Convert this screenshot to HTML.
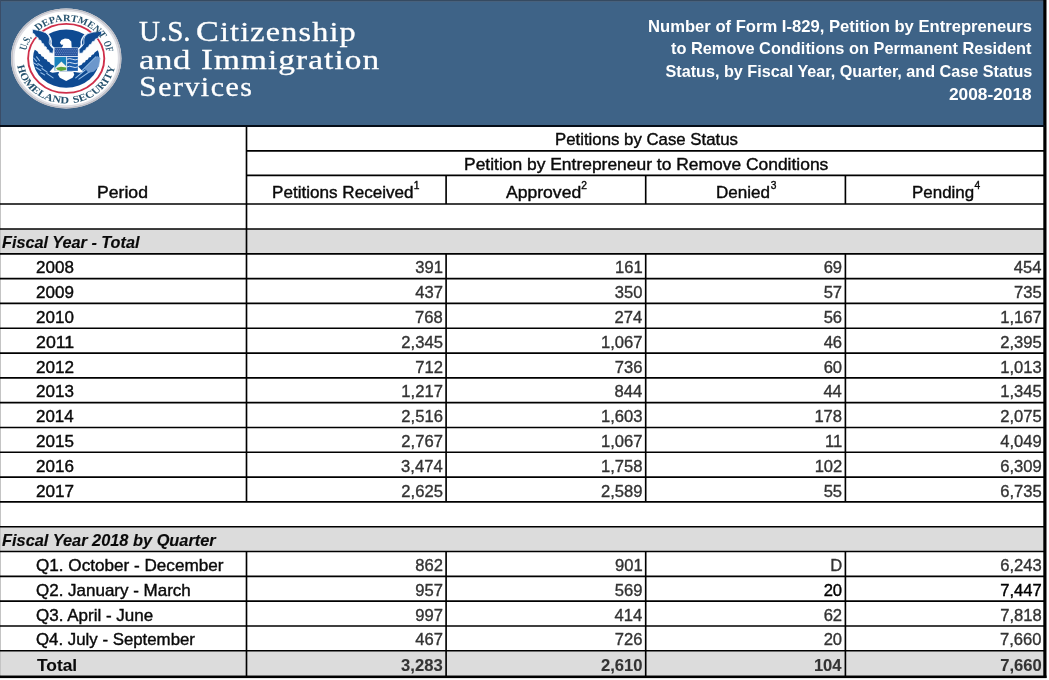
<!DOCTYPE html>
<html lang="en"><head><meta charset="utf-8"><title>Form I-829 Petitions by Case Status</title>
<style>
html,body{margin:0;padding:0;background:#fff;overflow:hidden;}
body{width:1049px;height:680px;position:relative;overflow:hidden;font-family:"Liberation Sans",sans-serif;color:#111;}
.hdr{position:absolute;left:0;top:0;width:1045px;height:125.2px;background:#3e6387;}
.hdr .topl{position:absolute;left:0;top:0;width:100%;height:1px;background:#354a61;box-shadow:0 1px 0 #48617c;}
.hdr .leftl{position:absolute;left:0;top:0;width:1px;height:100%;background:#3a4d68;}
.hdrline{position:absolute;left:0;top:124.9px;width:1045px;height:1.7px;background:#050d18;}
.grid,.seal{position:absolute;left:0;top:0;}
.g{height:0;}
span{position:absolute;white-space:nowrap;transform-origin:0 0;}
.ag{font-family:"Liberation Serif",serif;font-size:28.5px;line-height:30px;color:#fff;-webkit-text-stroke:0.35px #fff;}
.lc{font-size:26.8px;-webkit-text-stroke:0.3px #fff;}
.fl::first-letter{font-size:28.5px;}
.tt{font-size:16.2px;line-height:22px;font-weight:bold;color:#fff;}
.t{font-size:16.6px;line-height:24px;color:#0a0a0a;-webkit-text-stroke:0.4px #0a0a0a;}
.n{color:#333;-webkit-text-stroke:0.35px #333;}
.k{color:#000;-webkit-text-stroke:0.4px #000;}
.sp{font-size:10.2px;line-height:12px;}
.b{font-weight:bold;-webkit-text-stroke:0.1px #0a0a0a;}
.b.n{-webkit-text-stroke:0.1px #333;}
.bi{font-weight:bold;font-style:italic;-webkit-text-stroke:0.15px #0a0a0a;}
</style></head><body>
<div class="hdr"><div class="topl"></div><div class="leftl"></div></div>
<svg class="seal" width="135" height="120" viewBox="0 0 135 120">
<defs>
<path id="arcTop" d="M -37.2 0 A 37.2 37.2 0 0 1 37.2 0"/>
<path id="arcBot" d="M -45 0 A 45 45 0 0 0 45 0"/>
</defs>
<g transform="translate(66.2,58.4)">
 <g transform="scale(1.104,1)">
  <circle r="50" fill="#fff"/>
  <circle r="49.1" fill="none" stroke="#bfbfc6" stroke-width="1.8"/>
  <circle r="47.6" fill="none" stroke="#dedee4" stroke-width="1.6"/>
 </g>
</g>
<g transform="translate(26,22) scale(0.10582)">
 <ellipse cx="380" cy="346" rx="314" ry="276" fill="#0e4a92"/>
 <path d="M45 60 L262 240 L270 300 L268 420 L262 410 L234 399 L222 380 L203 374 L195 355 L175 349 L167 330 L147 324 L139 305 L120 299 L111 282 L92 268 L60 250 L40 150 Z" fill="#fdfdfd"/>
 <path d="M715 66 L498 246 L490 306 L492 426 L498 416 L526 405 L538 386 L557 380 L565 361 L585 355 L593 336 L613 330 L621 311 L640 305 L649 288 L668 274 L700 256 L720 156 Z" fill="#fdfdfd"/>
<g transform="scale(9.45)"><g transform="translate(40.2,36.4) scale(1.104,1)"><circle r="34.5" fill="none" stroke="#cf2f4a" stroke-width="1.7"/></g></g>
 <path d="M62 68 L139 84 L189 103 L214 126 L223 157 L219 199 L234 228 L262 246 L254 296 L222 290 L216 267 L197 259 L191 237 L172 228 L166 206 L147 198 L141 175 L119 167 L114 148 L89 137 L83 117 L62 104 Z" fill="#0e4a92" stroke="#e8f1fb" stroke-width="7" stroke-linejoin="round"/>
 <path d="M698 68 L621 84 L571 103 L546 126 L537 157 L541 199 L526 228 L498 246 L506 296 L538 290 L544 267 L563 259 L569 237 L588 228 L594 206 L613 198 L619 175 L641 167 L646 148 L671 137 L677 117 L698 104 Z" fill="#0e4a92" stroke="#e8f1fb" stroke-width="7" stroke-linejoin="round" transform="rotate(5 500 270)"/>
 <path d="M200 108 Q246 150 236 205 Q236 235 268 250" fill="none" stroke="#eaf3fc" stroke-width="14" stroke-linecap="round"/>
 <path d="M560 118 Q514 160 524 212 Q524 240 492 256" fill="none" stroke="#eaf3fc" stroke-width="14" stroke-linecap="round"/>
 <g stroke="#9cc3ea" stroke-width="10" stroke-linecap="round" fill="none">
  <path d="M72 340 L100 372 M100 330 L128 366 M70 385 L112 410 M112 392 L156 424 M95 430 L140 458 M150 440 L200 474 M140 480 L176 500 M196 486 L256 528"/>
  <path d="M470 528 L560 452 M500 540 L600 470 M520 470 L660 330"/>
 </g>
 <path d="M556 440 L672 322 L704 340 L690 420 L640 470 L590 480 Z" fill="#7ea6d6" opacity=".85"/>
 <path d="M262 426 L304 416 L322 470 L250 480 L222 470 Z" fill="#fff"/>
 <path d="M498 426 L456 416 L438 470 L510 480 L538 470 Z" fill="#fff"/>
 <path d="M314 466 L446 466 L456 498 L440 528 L412 542 L380 558 L348 542 L320 528 L304 498 Z" fill="#fff"/>
 <path d="M320 196 L334 170 L368 156 L404 160 L428 184 L432 246 L338 246 L352 216 L334 216 Z" fill="#fff"/>
 <path d="M266 240 H494 V420 Q494 452 440 464 H320 Q266 452 266 420 Z" fill="#f2f7fd"/>
 <rect x="270" y="246" width="220" height="76" fill="#27539d"/>
 <g fill="none" stroke="#7f9fd2" stroke-width="7" stroke-dasharray="9 9">
  <path d="M276 258 H486"/><path d="M285 274 H486"/><path d="M276 290 H486"/><path d="M285 306 H486"/>
 </g>
 <rect x="270" y="330" width="110" height="130" fill="#1a82bc"/>
 <path d="M276 432 L334 374 L380 418 V460 H276 Z" fill="#f6f4ea"/>
 <path d="M284 434 L330 424 L380 430 V452 L330 464 L296 452 Z" fill="#5aa33a"/>
 <rect x="388" y="330" width="102" height="132" fill="#1c5cab"/>
 <g stroke="#dfe9f6" stroke-width="9" fill="none">
  <path d="M388 352 Q412 340 438 352 T490 352"/><path d="M388 388 Q412 376 438 388 T490 388"/><path d="M388 424 Q412 412 438 424 T490 424"/>
 </g>
</g>
<g transform="translate(66.2,58.4) scale(1.104,1)" font-family="'Liberation Serif',serif" font-weight="bold" font-size="9.8" fill="#27536f">
 <text><textPath href="#arcTop" startOffset="7.7" textLength="14.4" lengthAdjust="spacingAndGlyphs">U.S.</textPath></text>
 <text><textPath href="#arcTop" startOffset="30.4" textLength="66.2" lengthAdjust="spacingAndGlyphs">DEPARTMENT</textPath></text>
 <text><textPath href="#arcTop" startOffset="100" textLength="10.4" lengthAdjust="spacingAndGlyphs">OF</textPath></text>
 <text><textPath href="#arcBot" startOffset="7.5" textLength="65.6" lengthAdjust="spacingAndGlyphs">HOMELAND</textPath></text>
 <text><textPath href="#arcBot" startOffset="77.3" textLength="55.4" lengthAdjust="spacingAndGlyphs">SECURITY</textPath></text>
</g>
</svg>

<svg class="grid" width="1049" height="680" viewBox="0 0 1049 680">
<rect x="0" y="229" width="1045" height="24.81" fill="#dcdcdc"/>
<rect x="0" y="526.72" width="1045" height="24.81" fill="#dcdcdc"/>
<rect x="0" y="650.77" width="1045" height="24.81" fill="#dcdcdc"/>
<rect x="0" y="126" width="1" height="552" fill="#c4c4c4"/>
<line x1="246.5" y1="150.8" x2="1045" y2="150.8" stroke="#000" stroke-width="1.65"/>
<line x1="246.5" y1="175.4" x2="1045" y2="175.4" stroke="#000" stroke-width="1.65"/>
<line x1="0" y1="204" x2="1045" y2="204" stroke="#000" stroke-width="1.65"/>
<line x1="0" y1="229" x2="1045" y2="229" stroke="#000" stroke-width="1.65"/>
<line x1="0" y1="253.81" x2="1045" y2="253.81" stroke="#000" stroke-width="1.65"/>
<line x1="0" y1="278.62" x2="1045" y2="278.62" stroke="#000" stroke-width="1.65"/>
<line x1="0" y1="303.43" x2="1045" y2="303.43" stroke="#000" stroke-width="1.65"/>
<line x1="0" y1="328.24" x2="1045" y2="328.24" stroke="#000" stroke-width="1.65"/>
<line x1="0" y1="353.05" x2="1045" y2="353.05" stroke="#000" stroke-width="1.65"/>
<line x1="0" y1="377.86" x2="1045" y2="377.86" stroke="#000" stroke-width="1.65"/>
<line x1="0" y1="402.67" x2="1045" y2="402.67" stroke="#000" stroke-width="1.65"/>
<line x1="0" y1="427.48" x2="1045" y2="427.48" stroke="#000" stroke-width="1.65"/>
<line x1="0" y1="452.29" x2="1045" y2="452.29" stroke="#000" stroke-width="1.65"/>
<line x1="0" y1="477.1" x2="1045" y2="477.1" stroke="#000" stroke-width="1.65"/>
<line x1="0" y1="501.91" x2="1045" y2="501.91" stroke="#000" stroke-width="1.65"/>
<line x1="0" y1="526.72" x2="1045" y2="526.72" stroke="#000" stroke-width="1.65"/>
<line x1="0" y1="551.53" x2="1045" y2="551.53" stroke="#000" stroke-width="1.65"/>
<line x1="0" y1="576.34" x2="1045" y2="576.34" stroke="#000" stroke-width="1.65"/>
<line x1="0" y1="601.15" x2="1045" y2="601.15" stroke="#000" stroke-width="1.65"/>
<line x1="0" y1="625.96" x2="1045" y2="625.96" stroke="#000" stroke-width="1.65"/>
<line x1="0" y1="650.77" x2="1045" y2="650.77" stroke="#000" stroke-width="1.65"/>
<rect x="0" y="675.5" width="1046.5" height="2.6" fill="#000"/>
<line x1="246.5" y1="125" x2="246.5" y2="501.91" stroke="#000" stroke-width="1.65"/>
<line x1="246.5" y1="551.53" x2="246.5" y2="676" stroke="#000" stroke-width="1.65"/>
<line x1="446.1" y1="175.4" x2="446.1" y2="204" stroke="#000" stroke-width="1.65"/>
<line x1="446.1" y1="253.81" x2="446.1" y2="501.91" stroke="#000" stroke-width="1.65"/>
<line x1="446.1" y1="551.53" x2="446.1" y2="676" stroke="#000" stroke-width="1.65"/>
<line x1="645.7" y1="175.4" x2="645.7" y2="204" stroke="#000" stroke-width="1.65"/>
<line x1="645.7" y1="253.81" x2="645.7" y2="501.91" stroke="#000" stroke-width="1.65"/>
<line x1="645.7" y1="551.53" x2="645.7" y2="676" stroke="#000" stroke-width="1.65"/>
<line x1="845.4" y1="175.4" x2="845.4" y2="204" stroke="#000" stroke-width="1.65"/>
<line x1="845.4" y1="253.81" x2="845.4" y2="501.91" stroke="#000" stroke-width="1.65"/>
<line x1="845.4" y1="551.53" x2="845.4" y2="676" stroke="#000" stroke-width="1.65"/>
<rect x="1043.3" y="0" width="3.2" height="678" fill="#000"/>
</svg>
<div class="hdrline"></div>
<div class="g"><span class="ag" style="left:139.19px;top:17px;transform:scaleX(1.0176);">U.S.</span> <span class="ag lc fl" style="left:196.2px;top:17px;transform:scaleX(1.2000);letter-spacing:0.98px;">Citizenship</span> <span class="ag lc" style="left:139.4px;top:45px;transform:scaleX(1.3000);letter-spacing:0.44px;">and</span> <span class="ag lc fl" style="left:200.86px;top:45px;transform:scaleX(1.2400);letter-spacing:0.92px;">Immigration</span> <span class="ag lc fl" style="left:138.76px;top:72px;transform:scaleX(1.1200);letter-spacing:1.29px;">Services</span></div><div class="g"><span class="tt" style="left:647.97px;top:15px;transform:scaleX(1.0263);">Number of Form I-829, Petition by Entrepreneurs</span> <span class="tt" style="left:671.35px;top:37px;transform:scaleX(1.0097);">to Remove Conditions on Permanent Resident</span> <span class="tt" style="left:665.5px;top:60px;">Status, by Fiscal Year, Quarter, and Case Status</span> <span class="tt" style="left:949.07px;top:83px;transform:scaleX(1.0680);">2008-2018</span></div><span class="t" style="left:554.94px;top:128px;transform:scaleX(1.0117);">Petitions by Case Status</span><span class="t" style="left:463.99px;top:153px;transform:scaleX(1.0504);">Petition by Entrepreneur to Remove Conditions</span><span class="t" style="left:96.97px;top:181px;transform:scaleX(1.0623);">Period</span><div class="g"><span class="t" style="left:272.01px;top:181px;transform:scaleX(1.0304);">Petitions Received</span><span class="t sp" style="left:413.85px;top:180px;">1</span></div><div class="g"><span class="t" style="left:505.5px;top:181px;transform:scaleX(1.0586);">Approved</span><span class="t sp" style="left:581.3px;top:180px;">2</span></div><div class="g"><span class="t" style="left:715.81px;top:181px;transform:scaleX(1.0289);">Denied</span><span class="t sp" style="left:770.7px;top:180px;">3</span></div><div class="g"><span class="t" style="left:911.92px;top:181px;transform:scaleX(1.0205);">Pending</span><span class="t sp" style="left:974.55px;top:180px;">4</span></div><span class="t bi" style="left:1.96px;top:231px;transform:scaleX(0.9786);">Fiscal Year - Total</span><span class="t" style="left:36.03px;top:256px;transform:scaleX(1.0254);">2008</span><span class="t n" style="left:415.35px;top:256px;">391</span><span class="t n" style="left:614.95px;top:256px;">161</span><span class="t n" style="left:823.65px;top:256px;">69</span><span class="t n" style="left:1013.75px;top:256px;">454</span><span class="t" style="left:36.03px;top:281px;transform:scaleX(1.0254);">2009</span><span class="t n" style="left:415.35px;top:281px;">437</span><span class="t n" style="left:614.7px;top:281px;">350</span><span class="t n" style="left:823.65px;top:281px;">57</span><span class="t n" style="left:1014px;top:281px;">735</span><span class="t" style="left:36.03px;top:306px;transform:scaleX(1.0254);">2010</span><span class="t n" style="left:415.1px;top:306px;">768</span><span class="t n" style="left:614.45px;top:306px;">274</span><span class="t n" style="left:823.65px;top:306px;">56</span><span class="t n" style="left:1000.25px;top:306px;">1,167</span><span class="t" style="left:36px;top:331px;transform:scaleX(1.0706);">2011</span><span class="t n" style="left:401.35px;top:331px;">2,345</span><span class="t n" style="left:600.95px;top:331px;">1,067</span><span class="t n" style="left:823.65px;top:331px;">46</span><span class="t n" style="left:1000.25px;top:331px;">2,395</span><span class="t" style="left:36.03px;top:356px;transform:scaleX(1.0326);">2012</span><span class="t n" style="left:415.35px;top:356px;">712</span><span class="t n" style="left:614.7px;top:356px;">736</span><span class="t n" style="left:823.65px;top:356px;">60</span><span class="t n" style="left:1000.25px;top:356px;">1,013</span><span class="t" style="left:36.03px;top:380px;transform:scaleX(1.0254);">2013</span><span class="t n" style="left:401.35px;top:380px;">1,217</span><span class="t n" style="left:614.45px;top:380px;">844</span><span class="t n" style="left:823.4px;top:380px;">44</span><span class="t n" style="left:1000.25px;top:380px;">1,345</span><span class="t" style="left:36.04px;top:405px;transform:scaleX(1.0182);">2014</span><span class="t n" style="left:401.35px;top:405px;">2,516</span><span class="t n" style="left:600.95px;top:405px;">1,603</span><span class="t n" style="left:814.4px;top:405px;">178</span><span class="t n" style="left:1000.25px;top:405px;">2,075</span><span class="t" style="left:36.03px;top:430px;transform:scaleX(1.0254);">2015</span><span class="t n" style="left:401.35px;top:430px;">2,767</span><span class="t n" style="left:600.95px;top:430px;">1,067</span><span class="t n" style="left:824.9px;top:430px;">11</span><span class="t n" style="left:1000.25px;top:430px;">4,049</span><span class="t" style="left:36.03px;top:455px;transform:scaleX(1.0254);">2016</span><span class="t n" style="left:401.1px;top:455px;">3,474</span><span class="t n" style="left:600.95px;top:455px;">1,758</span><span class="t n" style="left:814.65px;top:455px;">102</span><span class="t n" style="left:1000.25px;top:455px;">6,309</span><span class="t" style="left:36.03px;top:480px;transform:scaleX(1.0326);">2017</span><span class="t n" style="left:401.35px;top:480px;">2,625</span><span class="t n" style="left:600.95px;top:480px;">2,589</span><span class="t n" style="left:823.65px;top:480px;">55</span><span class="t n" style="left:1000.25px;top:480px;">6,735</span><span class="t bi" style="left:1.95px;top:529px;transform:scaleX(0.9860);">Fiscal Year 2018 by Quarter</span><span class="t" style="left:35.93px;top:554px;transform:scaleX(1.0318);">Q1. October - December</span><span class="t n" style="left:415.35px;top:554px;">862</span><span class="t n" style="left:614.95px;top:554px;">901</span><span class="t n" style="left:830.15px;top:554px;">D</span><span class="t n" style="left:1000.25px;top:554px;">6,243</span><span class="t" style="left:35.93px;top:579px;transform:scaleX(1.0234);">Q2. January - March</span><span class="t n" style="left:415.35px;top:579px;">957</span><span class="t n" style="left:614.7px;top:579px;">569</span><span class="t n k" style="left:823.65px;top:579px;">20</span><span class="t n k" style="left:1000.25px;top:579px;">7,447</span><span class="t" style="left:35.93px;top:604px;transform:scaleX(1.0253);">Q3. April - June</span><span class="t n" style="left:415.35px;top:604px;">997</span><span class="t n" style="left:614.45px;top:604px;">414</span><span class="t n" style="left:823.65px;top:604px;">62</span><span class="t n" style="left:1000.25px;top:604px;">7,818</span><span class="t" style="left:35.94px;top:628px;transform:scaleX(1.0138);">Q4. July - September</span><span class="t n" style="left:415.35px;top:628px;">467</span><span class="t n" style="left:614.7px;top:628px;">726</span><span class="t n" style="left:823.65px;top:628px;">20</span><span class="t n" style="left:1000px;top:628px;">7,660</span><span class="t b" style="left:36.84px;top:654px;transform:scaleX(1.0459);">Total</span><span class="t b n" style="left:401.1px;top:654px;">3,283</span><span class="t b n" style="left:600.95px;top:654px;">2,610</span><span class="t b n" style="left:813.9px;top:654px;">104</span><span class="t b n" style="left:1000.25px;top:654px;">7,660</span>
</body></html>
